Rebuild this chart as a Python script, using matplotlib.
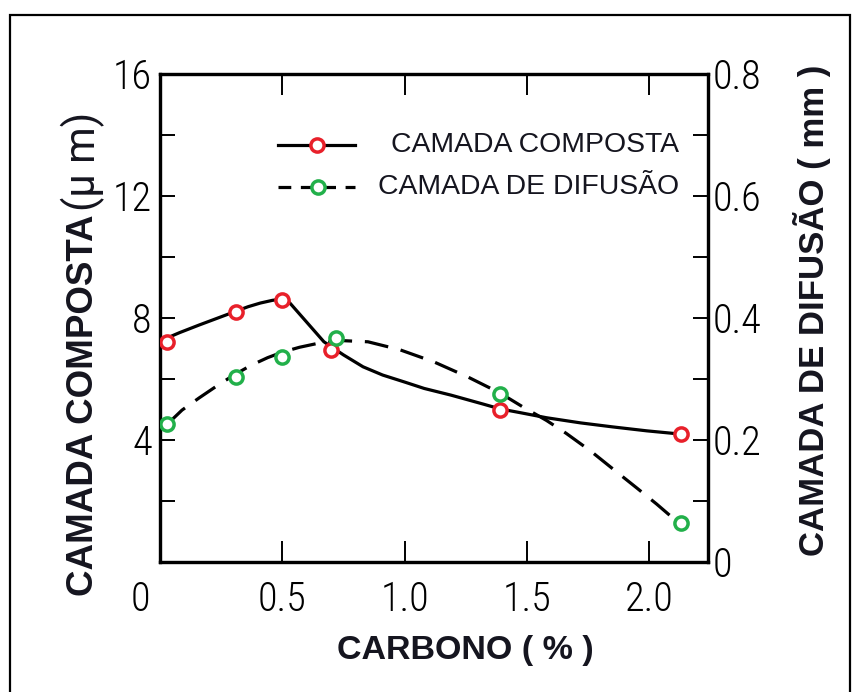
import matplotlib
matplotlib.use("Agg")
import matplotlib.pyplot as plt
from matplotlib.lines import Line2D
from matplotlib.patches import Rectangle
import matplotlib.transforms as mtransforms

# ---- data ----
carbono_comp = [0.03, 0.31, 0.50, 0.70, 1.39, 2.13]
camada_composta = [7.2, 8.2, 8.6, 6.95, 5.0, 4.2]          # um (left axis)
carbono_dif = [0.03, 0.31, 0.50, 0.72, 1.39, 2.13]
camada_difusao = [0.226, 0.303, 0.336, 0.367, 0.275, 0.064]  # mm (right axis)

# hand-drawn trend curves
curve_comp_x = [0.01, 0.08, 0.16, 0.24, 0.31, 0.36, 0.41, 0.46, 0.50, 0.53,
                0.60, 0.67, 0.75, 0.83, 0.91, 1.00, 1.08, 1.19, 1.32, 1.39,
                1.47, 1.58, 1.72, 1.85, 1.99, 2.12]
curve_comp_y = [7.28, 7.52, 7.77, 8.01, 8.22, 8.37, 8.49, 8.58, 8.62, 8.50,
                7.86, 7.22, 6.79, 6.40, 6.13, 5.90, 5.69, 5.47, 5.18, 5.02,
                4.90, 4.73, 4.56, 4.43, 4.30, 4.20]
curve_dif_x = [0.03, 0.09, 0.16, 0.23, 0.30, 0.37, 0.44, 0.50, 0.57, 0.64,
               0.74, 0.85, 0.98, 1.12, 1.26, 1.39, 1.48, 1.58, 1.66, 1.76,
               1.85, 1.95, 2.03, 2.12]
curve_dif_y = [0.226, 0.249, 0.269, 0.288, 0.306, 0.322, 0.335, 0.344, 0.352, 0.358,
               0.363, 0.361, 0.348, 0.328, 0.303, 0.277, 0.255, 0.232, 0.211, 0.182,
               0.153, 0.121, 0.095, 0.064]

left_ticks = [0, 2, 4, 6, 8, 10, 12, 14, 16]
left_labels = ["", "", "4", "", "8", "", "12", "", "16"]
right_ticks = [0, 0.1, 0.2, 0.3, 0.4, 0.5, 0.6, 0.7, 0.8]
right_labels = ["0", "", "0.2", "", "0.4", "", "0.6", "", "0.8"]
x_ticks = [0, 0.5, 1.0, 1.5, 2.0]
x_labels = ["0", "0.5", "1.0", "1.5", "2.0"]

legend_labels = ["CAMADA COMPOSTA", "CAMADA DE DIFUSÃO"]

# ---- styling ----
W, H = 860, 692
DPI = 100
fig = plt.figure(figsize=(W / DPI, H / DPI), dpi=DPI)
fig.patch.set_facecolor("white")

tick_font = dict(family=["Roboto Condensed", "Roboto", "DejaVu Sans"], size=29, weight="light")
TXT = "#15151f"
RED = "#e8202a"
GREEN = "#22b04a"
BOLD = ["Liberation Sans", "DejaVu Sans"]

# outer frame
fig.patches.append(Rectangle((10 / W, -0.05), 840 / W, 1 - 15 / H + 0.05,
                             transform=fig.transFigure, fill=False,
                             edgecolor="black", linewidth=1.6, zorder=0))

ax = fig.add_axes([160 / W, 1 - 562 / H, 548 / W, 488 / H])
ax2 = ax.twinx()

ax.set_xlim(0, 2.24)
ax.set_ylim(0, 16)
ax2.set_ylim(0, 0.8)

for a in (ax, ax2):
    for s in a.spines.values():
        s.set_linewidth(2.3)
        s.set_color("black")

ax.set_xticks(x_ticks)
ax.set_xticklabels(x_labels, **tick_font)
ax.set_yticks(left_ticks)
ax.set_yticklabels(left_labels, **tick_font)
ax2.set_yticks(right_ticks)
ax2.set_yticklabels(right_labels, **tick_font)

ax.tick_params(axis="x", direction="in", length=15, width=1.4, pad=13,
               top=True, colors="black")
ax.tick_params(axis="y", direction="in", length=11, width=1.4, pad=6, colors="black")
ax2.tick_params(axis="y", direction="in", length=11, width=1.4, pad=3, colors="black")

# shift the "0" x label a little to the left, as in the reference
lbl0 = ax.get_xticklabels()[0]
lbl0.set_transform(lbl0.get_transform() + mtransforms.ScaledTranslation(-14 / 72, 0, fig.dpi_scale_trans))

# curves
lw = 2.3
ax.plot(curve_comp_x, curve_comp_y, color="black", lw=lw, solid_capstyle="round",
        solid_joinstyle="round", zorder=3)
ax2.plot(curve_dif_x, curve_dif_y, color="black", lw=lw, linestyle=(0, (7.5, 4)),
         dash_joinstyle="round", zorder=3)

mk = dict(marker="o", markersize=9.5, markerfacecolor="white", markeredgewidth=2.5,
          linestyle="none", zorder=5)
ax2.plot(carbono_comp, [v / 20 for v in camada_composta], markeredgecolor=RED, **mk)
ax2.plot(carbono_dif, camada_difusao, markeredgecolor=GREEN, **mk)

# manual legend
ax2.add_line(Line2D([0.215, 0.356], [0.855, 0.855], transform=ax.transAxes,
                    color="black", lw=lw, zorder=4))
ax2.add_line(Line2D([0.286], [0.855], transform=ax.transAxes, markeredgecolor=RED, **mk))
ax2.add_line(Line2D([0.215, 0.356], [0.768, 0.768], transform=ax.transAxes,
                    color="black", lw=lw, linestyle=(0, (4, 3)), zorder=4))
ax2.add_line(Line2D([0.288], [0.768], transform=ax.transAxes, markeredgecolor=GREEN, **mk))
leg_font = dict(family=BOLD, size=20.4, color=TXT)
ax.text(0.947, 0.855, legend_labels[0], transform=ax.transAxes, ha="right", va="center", **leg_font)
ax.text(0.947, 0.768, legend_labels[1], transform=ax.transAxes, ha="right", va="center", **leg_font)

# axis labels
fig.text(465 / W, 1 - 651 / H, "CARBONO ( % )", ha="center", va="center", color=TXT,
         family=BOLD, size=24.5, weight="bold")
fig.text(84 / W, 1 - 596 / H, "CAMADA COMPOSTA", rotation=90, ha="center", va="bottom",
         color=TXT, family=BOLD, size=26.5, weight="bold")
fig.text(83 / W, 1 - 211 / H, "(μ m)", rotation=90, ha="center", va="bottom", color=TXT,
         family=["Roboto", "DejaVu Sans"], size=30, weight="normal")
fig.text(812 / W, 1 - 556 / H, "CAMADA DE DIFUSÃO ( mm )", rotation=90, ha="center",
         va="bottom", color=TXT, family=BOLD, size=25, weight="bold")

fig.savefig("out.png", dpi=DPI)
